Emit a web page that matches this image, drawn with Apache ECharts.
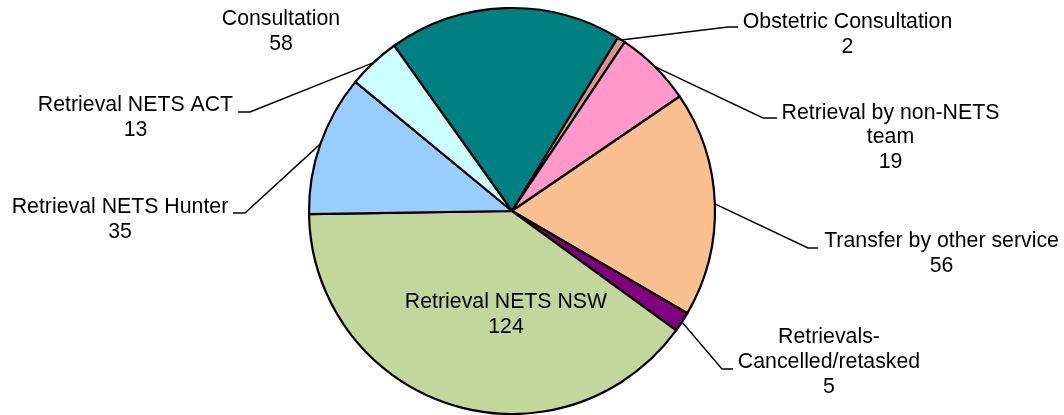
<!DOCTYPE html>
<html>
<head>
<meta charset="utf-8">
<script src="https://cdn.jsdelivr.net/npm/echarts@6/dist/echarts.min.js"></script>
<style>
html,body{margin:0;padding:0;background:#fff;}
#chart{width:1064px;height:415px;}
</style>
</head>
<body>
<div id="chart"></div>
<script>
// ---- data ----
const categories = [
  'Consultation',
  'Obstetric Consultation',
  'Retrieval by non-NETS team',
  'Transfer by other service',
  'Retrievals-Cancelled/retasked',
  'Retrieval NETS NSW',
  'Retrieval NETS Hunter',
  'Retrieval NETS ACT'
];
const values = [58, 2, 19, 56, 5, 124, 35, 13];
const labelTexts = [
  'Consultation',
  'Obstetric Consultation',
  'Retrieval by non-NETS\nteam',
  'Transfer by other service',
  'Retrievals-\nCancelled/retasked',
  'Retrieval NETS NSW',
  'Retrieval NETS Hunter',
  'Retrieval NETS ACT'
];

// ---- styles / layout ----
const colors = ['#008080', '#D99594', '#FF99CC', '#FAC090', '#800080', '#C3D69B', '#99CCFF', '#CCFFFF'];
// label block centre [x, y]
const labelCenters = [
  [281, 31.5], [847.5, 34.5], [890.5, 137.5], [941.5, 253.5],
  [829, 362], [506, 315], [120, 219.5], [135.5, 117.5]
];
// leader line elbow and end points (null = no leader line)
const leaderLines = [
  null,
  [[728, 27], [738, 27]],
  [[763, 118], [777, 118]],
  [[808, 248], [818, 248]],
  [[722, 369], [733, 369]],
  null,
  [[245, 213], [233, 213]],
  [[250, 112], [238, 112]]
];

const chart = echarts.init(document.getElementById('chart'), null, {renderer: 'canvas'});
const data = categories.map((c, i) => ({
  name: c,
  value: values[i],
  itemStyle: {color: colors[i]},
  labelLine: {show: leaderLines[i] !== null}
}));

chart.setOption({
  animation: false,
  backgroundColor: '#ffffff',
  series: [{
    type: 'pie',
    center: [512, 211],
    radius: 203,
    startAngle: 125.5,
    clockwise: true,
    avoidLabelOverlap: false,
    data: data,
    itemStyle: {borderColor: '#000000', borderWidth: 2.2},
    label: {
      show: true,
      position: 'outside',
      formatter: p => labelTexts[p.dataIndex] + '\n' + p.value,
      fontFamily: '"Liberation Sans", Arial, sans-serif',
      fontSize: 21.3,
      lineHeight: 24.8,
      color: '#000000',
      align: 'center'
    },
    labelLine: {
      show: true,
      length: 20,
      length2: 10,
      lineStyle: {color: '#000000', width: 1.4}
    },
    emphasis: {disabled: true},
    labelLayout: function (params) {
      const i = params.dataIndex;
      const c = labelCenters[i];
      const res = {x: c[0], y: c[1], align: 'center', verticalAlign: 'middle'};
      const ll = leaderLines[i];
      if (ll && params.labelLinePoints) {
        const p0 = params.labelLinePoints[0];
        res.labelLinePoints = [[p0[0], p0[1]], ll[0], ll[1]];
      }
      return res;
    }
  }]
});
</script>
</body>
</html>
